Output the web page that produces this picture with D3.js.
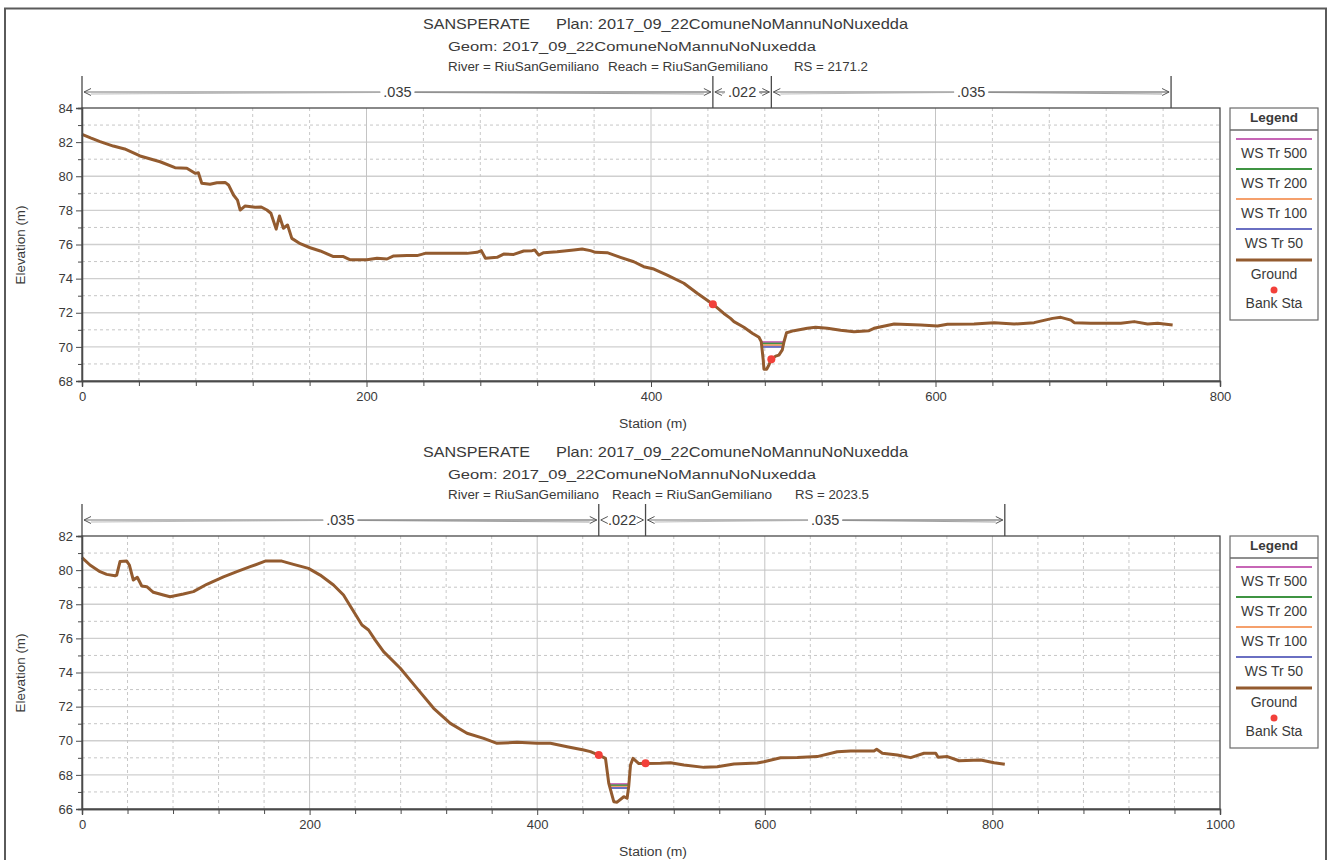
<!DOCTYPE html>
<html><head><meta charset="utf-8">
<script src="https://cdn.jsdelivr.net/npm/d3@7"></script>
<style>
body{margin:0;background:#fff}
svg{display:block;font-family:"Liberation Sans",Arial,sans-serif}
</style>
</head><body>
<svg id="c" width="1331" height="860"></svg>
<script>
// ---------- DATA ----------
const wsLabels = ["WS Tr 500", "WS Tr 200", "WS Tr 100", "WS Tr 50"];
const wsColors = ["#c766b6", "#3f9443", "#f5a06c", "#6a6fc2"];
const manningN = [".035", ".022", ".035"];

// Cross section RS 2171.2
const topRS = "2171.2";
const topStations = [0,6,12.7,22,30,40.8,54.9,65.4,73.7,79.5,81.8,84.2,90,94.8,100.6,103,106.5,109.3,111.2,114.7,121.7,126,130,132.8,136.5,138.8,141.6,144.5,147.5,153.4,160.4,167.5,176.8,183.8,188.6,200.3,207.4,214.4,219.1,228.5,235.5,241.3,258.9,270.7,277.7,280.7,283.6,291.8,296.4,303.5,310.5,316.4,318.3,321.1,324.6,334,345.7,351.6,357.4,361,369.2,378.5,387.9,394.9,402,411.4,423.1,432.5,443.5,451.2,455.9,458.3,465.3,471.2,475.9,477.5,478.9,479.4,481.3,482.9,484.6,487.6,489.9,492.3,493.5,495.3,500.5,509.9,515.7,524,533.3,542.7,553.3,556.8,570.9,589.6,601.4,608.4,627.1,641.2,655.3,669.3,682.3,688.1,695.2,697.5,709.2,721,730.3,739.7,749.1,756.2,766.7];
const topElevations = [82.46,82.25,82.03,81.77,81.6,81.19,80.85,80.5,80.47,80.17,80.21,79.59,79.53,79.62,79.64,79.49,78.9,78.6,78.02,78.26,78.18,78.2,78.02,77.83,76.9,77.67,76.95,77.14,76.36,76.05,75.81,75.62,75.29,75.29,75.1,75.1,75.19,75.15,75.33,75.35,75.35,75.48,75.48,75.48,75.54,75.64,75.19,75.25,75.44,75.42,75.62,75.64,75.68,75.38,75.52,75.58,75.68,75.74,75.64,75.54,75.52,75.25,74.99,74.7,74.56,74.21,73.73,73.14,72.5,71.96,71.67,71.48,71.15,70.8,70.56,70.31,69.23,68.69,68.69,68.94,69.27,69.46,69.52,69.82,70.3,70.83,70.95,71.09,71.15,71.09,70.97,70.89,70.95,71.09,71.34,71.28,71.22,71.32,71.34,71.42,71.34,71.42,71.67,71.73,71.57,71.42,71.38,71.38,71.38,71.48,71.34,71.38,71.28];
const topBankStations = [443.5, 484.6];
const topBankElevations = [72.5, 69.27];
const topWS = [70.28, 70.19, 70.10, 70.00];
const topNStations = [0, 443.5, 484.6, 765.6];

// Cross section RS 2023.5
const botRS = "2023.5";
const botStations = [0,7,15.8,21.7,29,30.5,33.4,39.3,41.6,45.1,48.6,52.5,56.9,62.7,71.5,77.4,89.1,97.9,109.7,124.3,136.1,147.8,161,175.6,185.8,199,209.3,221,229.8,235.7,246,251.8,257.7,265,279.7,294.4,309,323.7,338.3,353,364.7,382.3,399.9,411.6,426.3,440.9,446.8,454.1,460,462.9,467.3,470.2,476.1,479,480.4,482,484.2,489.3,495.2,508.4,517.2,528.9,546.5,558.2,572.9,593.4,599.2,613.9,628.6,646.1,663.7,675.5,696,698.3,703.3,716.5,728.2,739.9,750.2,752.3,760.5,770.7,789.8,801.5,810.9];
const botElevations = [80.73,80.3,79.91,79.75,79.67,79.71,80.5,80.53,80.3,79.42,79.58,79.07,79.03,78.7,78.54,78.44,78.6,78.74,79.17,79.61,79.91,80.2,80.53,80.53,80.34,80.1,79.71,79.13,78.54,77.9,76.78,76.49,75.9,75.22,74.25,73.07,71.9,71.02,70.44,70.14,69.85,69.91,69.85,69.85,69.65,69.46,69.36,69.16,68.97,67.5,66.43,66.4,66.72,66.63,67.31,68.58,68.97,68.66,68.66,68.68,68.71,68.58,68.44,68.48,68.64,68.7,68.77,69.0,69.02,69.07,69.36,69.4,69.4,69.5,69.27,69.17,69.01,69.27,69.27,69.03,69.07,68.83,68.87,68.71,68.62];
const botBankStations = [454.1, 495.2];
const botBankElevations = [69.16, 68.68];
const botWS = [67.46, 67.38, 67.30, 67.23];
const botNStations = [0, 454.1, 495.2, 810.9];

const topXTicks = [0, 200, 400, 600, 800];
const botXTicks = [0, 200, 400, 600, 800, 1000];
const topYTicks = [68, 70, 72, 74, 76, 78, 80, 82, 84];
const botYTicks = [66, 68, 70, 72, 74, 76, 78, 80, 82];

// ---------- DRAW ----------
const svg = d3.select("#c");
svg.append("rect").attr("x", 0).attr("y", 0).attr("width", 1331).attr("height", 860).attr("fill", "#fff");
svg.append("rect").attr("x", 5).attr("y", 8.5).attr("width", 1321).attr("height", 900)
  .attr("fill", "none").attr("stroke", "#5a5a5a").attr("stroke-width", 2);

const groundColor = "#935b2f";
const textColor = "#3a3a3a";
const L = 82, R = 1220, T = 108, B = 381;

function drawChart(o) {
  const g = svg.append("g").attr("transform", `translate(0,${o.dy})`);
  const x = d3.scaleLinear().domain([0, o.xMax]).range([L, R]);
  const y = d3.scaleLinear().domain([o.yMin, o.yMax]).range([B, T]);

  // titles
  const tt = (txt, xx, yy, size, len) => {
    const t = g.append("text").attr("x", xx).attr("y", yy).attr("font-size", size)
      .attr("fill", textColor).text(txt);
    if (len) t.attr("textLength", len).attr("lengthAdjust", "spacingAndGlyphs");
    return t;
  };
  tt("SANSPERATE", 423, 29, 14.5, 107);
  tt("Plan: 2017_09_22ComuneNoMannuNoNuxedda", 556, 29, 14.5, 352);
  tt("Geom: 2017_09_22ComuneNoMannuNoNuxedda", 448, 50.5, 12, 368);
  tt("River = RiuSanGemiliano", 448, 71, 12, 151);
  tt("Reach = RiuSanGemiliano", o.reachX, 71, 12, 160);
  tt("RS = " + o.rs, o.rsX, 71, 12, 74);

  // grid
  const grid = g.append("g");
  d3.range(o.yMin + 1, o.yMax).forEach(v => {
    grid.append("line").attr("x1", L).attr("x2", R).attr("y1", y(v)).attr("y2", y(v))
      .attr("stroke", v % 2 === 0 ? "#cfcfcf" : "#c6c6c6")
      .attr("stroke-width", v % 2 === 0 ? 1.3 : 1)
      .attr("stroke-dasharray", v % 2 === 0 ? null : "3,3");
  });
  d3.range(40, o.xMax, 40).forEach(v => {
    const major = v % 200 === 0;
    grid.append("line").attr("x1", x(v)).attr("x2", x(v)).attr("y1", T).attr("y2", B)
      .attr("stroke", major ? "#c4c4c4" : "#c8c8c8")
      .attr("stroke-width", 1)
      .attr("stroke-dasharray", major ? null : "3,3");
  });

  // water surfaces
  const pts = o.st.map((s, i) => [s, o.el[i]]);
  const iMin = d3.minIndex(o.el);
  function crossing(ws) {
    let i = iMin; while (i > 0 && o.el[i - 1] < ws) i--;
    const a = pts[i - 1], b = pts[i];
    const xl = a[0] + (ws - a[1]) * (b[0] - a[0]) / (b[1] - a[1]);
    let j = iMin; while (j < pts.length - 1 && o.el[j + 1] < ws) j++;
    const c = pts[j], d = pts[j + 1];
    const xr = c[0] + (ws - c[1]) * (d[0] - c[0]) / (d[1] - c[1]);
    return [xl, xr];
  }
  o.ws.forEach((w, k) => {
    const [xl, xr] = crossing(w);
    g.append("line").attr("x1", x(xl)).attr("x2", x(xr)).attr("y1", y(w)).attr("y2", y(w))
      .attr("stroke", wsColors[k]).attr("stroke-width", 2);
  });

  // ground
  g.append("path").datum(pts)
    .attr("d", d3.line().x(d => x(d[0])).y(d => y(d[1])))
    .attr("fill", "none").attr("stroke", groundColor).attr("stroke-width", 3)
    .attr("stroke-linejoin", "round");

  // bank stations
  o.bankSt.forEach((s, i) => {
    g.append("circle").attr("cx", x(s)).attr("cy", y(o.bankEl[i])).attr("r", 4)
      .attr("fill", "#f2403a");
  });

  // frame
  g.append("rect").attr("x", L).attr("y", T).attr("width", R - L).attr("height", B - T)
    .attr("fill", "none").attr("stroke", "#4a4a4a").attr("stroke-width", 1.3);

  // axes
  const yMinor = d3.range(o.yMin + 1, o.yMax, 2);
  g.append("g").attr("transform", `translate(${L},0)`)
    .call(d3.axisLeft(y).tickValues(o.yTicks).tickSize(6).tickPadding(3).tickFormat(d3.format("d")));
  g.append("g").attr("transform", `translate(${L},0)`)
    .call(d3.axisLeft(y).tickValues(yMinor).tickSize(4).tickFormat(""));
  g.append("g").attr("transform", `translate(0,${B})`)
    .call(d3.axisBottom(x).tickValues(o.xTicks).tickSize(6).tickPadding(5).tickFormat(d3.format("d")));
  g.append("g").attr("transform", `translate(0,${B})`)
    .call(d3.axisBottom(x).tickValues(d3.range(40, o.xMax, 40).filter(v => v % 200 !== 0)).tickSize(5).tickFormat(""));
  g.selectAll(".domain").attr("stroke", "#4a4a4a").attr("stroke-width", 1.3);
  g.selectAll(".tick line").attr("stroke", "#4a4a4a");
  g.selectAll(".tick text").attr("font-size", 13).attr("fill", textColor)
    .attr("font-family", '"Liberation Sans",Arial,sans-serif');

  g.append("text").attr("x", 619).attr("y", 428).attr("font-size", 12.5)
    .attr("fill", textColor).attr("textLength", 68).attr("lengthAdjust", "spacingAndGlyphs")
    .text("Station (m)");
  g.append("text").attr("transform", "translate(25,245) rotate(-90)").attr("text-anchor", "middle")
    .attr("font-size", 12.5).attr("fill", textColor).attr("textLength", 79)
    .attr("lengthAdjust", "spacingAndGlyphs").text("Elevation (m)");

  // Manning's n bars
  const nY = 92;
  const ng = g.append("g");
  o.nSt.forEach(s => {
    ng.append("line").attr("x1", x(s)).attr("x2", x(s)).attr("y1", 76).attr("y2", T)
      .attr("stroke", "#4a4a4a").attr("stroke-width", 1.3);
  });
  manningN.forEach((lab, i) => {
    const x0 = x(o.nSt[i]), x1 = x(o.nSt[i + 1]);
    const cx = (x0 + x1) / 2;
    const t = ng.append("text").attr("x", cx).attr("y", nY + 5).attr("text-anchor", "middle")
      .attr("font-size", 14.5).attr("fill", textColor).text(lab);
    const w = t.node().getComputedTextLength();
    const gl = cx - w / 2 - 3, gr = cx + w / 2 + 3;
    const lt = x0 + 2, rt = x1 - 2;
    if (gl > lt + 8) {
      ng.append("line").attr("x1", lt).attr("x2", gl).attr("y1", nY).attr("y2", nY)
        .attr("stroke", "#777").attr("stroke-width", 1.2);
      ng.append("line").attr("x1", lt + 7).attr("x2", gl).attr("y1", nY + 2).attr("y2", nY + 0.5)
        .attr("stroke", "#aaa").attr("stroke-width", 0.8);
      ng.append("line").attr("x1", gr).attr("x2", rt).attr("y1", nY).attr("y2", nY)
        .attr("stroke", "#555").attr("stroke-width", 1.2);
      ng.append("line").attr("x1", gr).attr("x2", rt - 7).attr("y1", nY + 0.5).attr("y2", nY + 2)
        .attr("stroke", "#888").attr("stroke-width", 0.8);
    }
    ng.append("path").attr("d", `M${lt + 7},${nY - 3.5}L${lt},${nY}L${lt + 7},${nY + 3.5}`)
      .attr("fill", "none").attr("stroke", "#555").attr("stroke-width", 1);
    ng.append("path").attr("d", `M${rt - 7},${nY - 3.5}L${rt},${nY}L${rt - 7},${nY + 3.5}`)
      .attr("fill", "none").attr("stroke", "#555").attr("stroke-width", 1);
  });

  // legend
  const lg = g.append("g");
  lg.append("rect").attr("x", 1230).attr("y", 108).attr("width", 88).attr("height", 212)
    .attr("fill", "#fff").attr("stroke", "#6a6a6a").attr("stroke-width", 1.2);
  lg.append("text").attr("x", 1274).attr("y", 122).attr("text-anchor", "middle")
    .attr("font-size", 13.5).attr("font-weight", "bold").attr("fill", textColor).text("Legend");
  lg.append("line").attr("x1", 1230).attr("x2", 1318).attr("y1", 130).attr("y2", 130)
    .attr("stroke", "#6a6a6a").attr("stroke-width", 1.5);
  wsLabels.forEach((lab, k) => {
    const ly = 139 + k * 30;
    lg.append("line").attr("x1", 1236).attr("x2", 1312).attr("y1", ly).attr("y2", ly)
      .attr("stroke", wsColors[k]).attr("stroke-width", 2);
    lg.append("text").attr("x", 1274).attr("y", ly + 19).attr("text-anchor", "middle")
      .attr("font-size", 14).attr("fill", textColor).text(lab);
  });
  lg.append("line").attr("x1", 1236).attr("x2", 1312).attr("y1", 260).attr("y2", 260)
    .attr("stroke", groundColor).attr("stroke-width", 3);
  lg.append("text").attr("x", 1274).attr("y", 279).attr("text-anchor", "middle")
    .attr("font-size", 14).attr("fill", textColor).text("Ground");
  lg.append("circle").attr("cx", 1274).attr("cy", 290).attr("r", 3.5).attr("fill", "#f2403a");
  lg.append("text").attr("x", 1274).attr("y", 308).attr("text-anchor", "middle")
    .attr("font-size", 14).attr("fill", textColor).text("Bank Sta");
}

drawChart({dy: 0, xMax: 800, yMin: 68, yMax: 84, xTicks: topXTicks, yTicks: topYTicks,
  st: topStations, el: topElevations, bankSt: topBankStations, bankEl: topBankElevations,
  ws: topWS, nSt: topNStations, rs: topRS, reachX: 608, rsX: 794});
drawChart({dy: 428, xMax: 1000, yMin: 66, yMax: 82, xTicks: botXTicks, yTicks: botYTicks,
  st: botStations, el: botElevations, bankSt: botBankStations, bankEl: botBankElevations,
  ws: botWS, nSt: botNStations, rs: botRS, reachX: 612, rsX: 795});
</script>
</body></html>
